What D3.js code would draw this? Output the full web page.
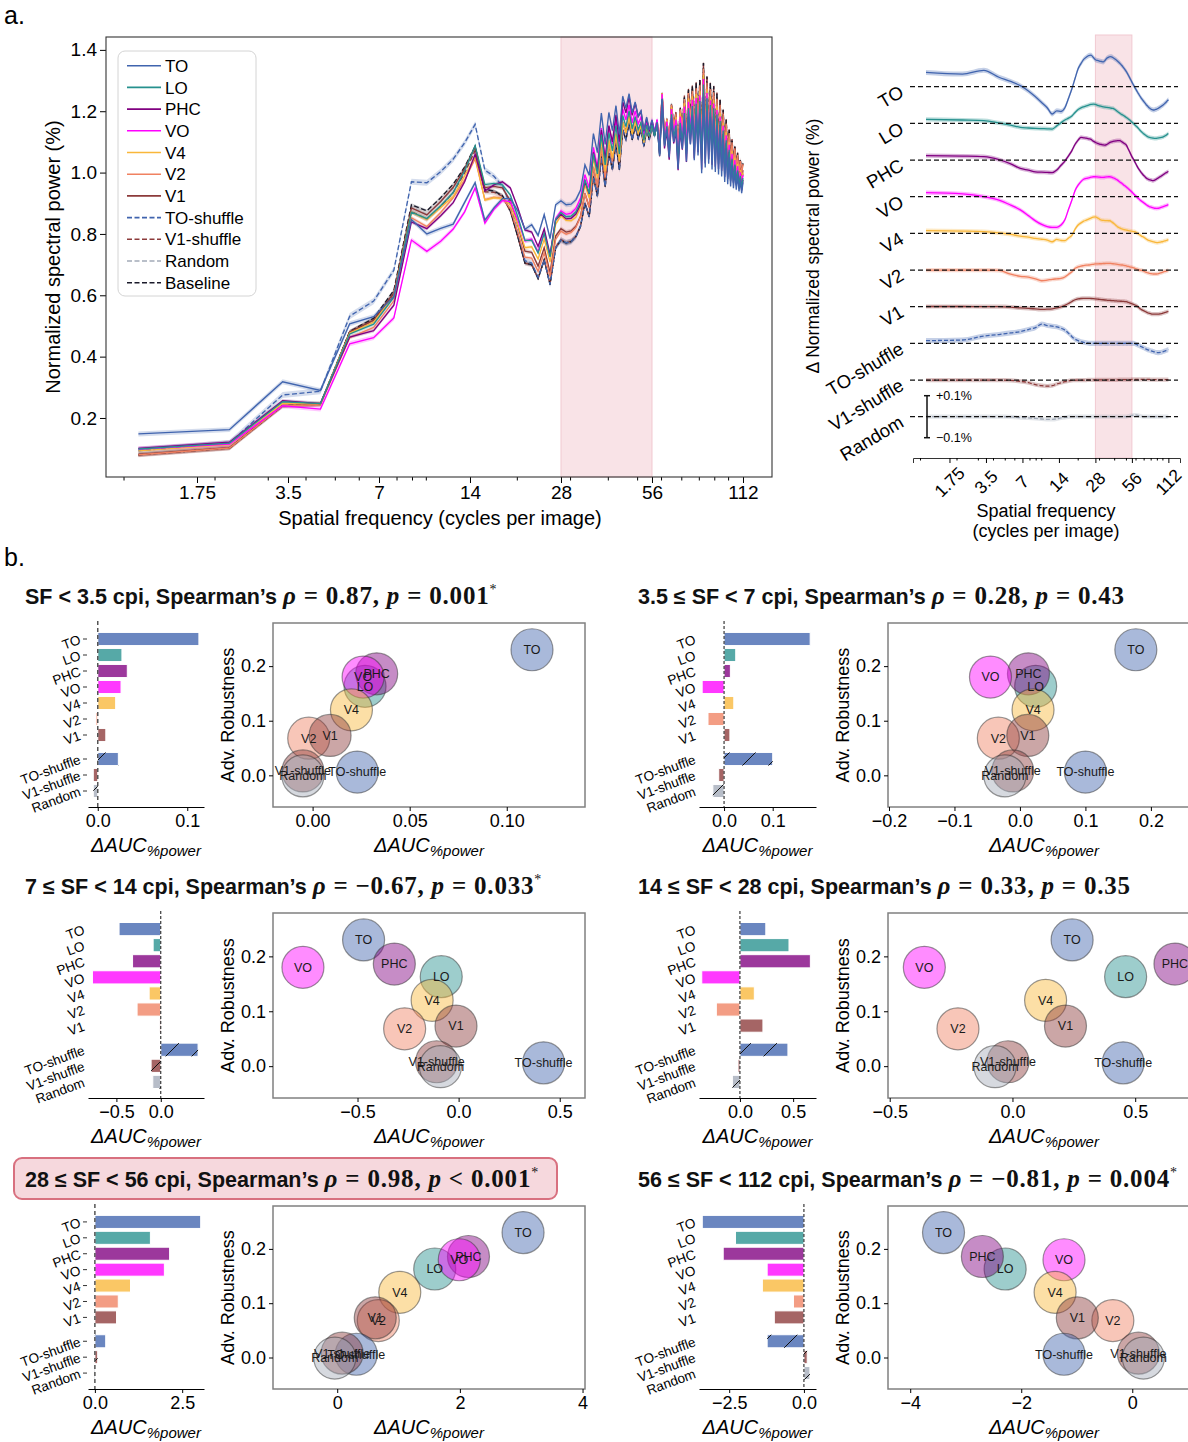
<!DOCTYPE html>
<html>
<head>
<meta charset="utf-8">
<script src="https://cdn.jsdelivr.net/npm/d3@7"></script>
<style>
  body { margin: 0; background: #fff; }
  svg text { font-family: "Liberation Sans", Arial, Helvetica, sans-serif; }
</style>
</head>
<body>
<svg width="1188" height="1442"></svg>
<script>
// ---------------- data ----------------
const regions = ['TO','LO','PHC','VO','V4','V2','V1','TO-shuffle','V1-shuffle','Random']
const regionColors = ['#4064ae','#26918e','#800080','#ff00ff','#f9b73a','#f08161','#8c3a3a','#4064ae','#8c3a3a','#a3abb8']
const baselineColor = '#1a1a2a'

const sfStep = 1.12   // spacing of the frequency bins (cycles per image)
const sfTicks = [1.75, 3.5, 7, 14, 28, 56, 112]
const sfMinor = [1, 2, 3, 4, 5, 6, 8, 9, 10, 20, 30, 40, 50, 60, 70, 80, 90, 100]
const mainYTicks = [0.2, 0.4, 0.6, 0.8, 1.0, 1.2, 1.4]

// baseline normalized spectral power (%) at each bin
const baseline = [
0.080,0.102,0.240,0.245,0.482,0.525,0.616,0.895,0.875,0.918,
0.962,1.018,1.085,0.945,0.940,0.925,0.875,0.790,0.705,0.700,
0.655,0.715,0.635,0.755,0.780,0.770,0.775,0.791,0.824,0.900,
0.856,0.987,0.922,1.052,0.954,1.063,1.009,1.096,1.009,1.139,
1.107,1.161,1.107,1.150,1.112,1.139,1.085,1.139,1.107,1.150,
1.118,1.161,1.063,1.253,1.107,1.172,1.085,1.221,1.150,1.194,
1.074,1.210,1.150,1.248,1.118,1.270,1.183,1.281,1.139,1.291,
1.161,1.302,1.107,1.357,1.128,1.313,1.139,1.291,1.118,1.281,
1.107,1.259,1.096,1.237,1.085,1.205,1.063,1.172,1.052,1.139,
1.041,1.107,1.030,1.085,1.020,1.063,1.009,1.041,0.998,1.030]

// difference to baseline (%), per region
const deltaTO = [
0.068,0.060,0.078,0.045,0.025,0.005,-0.020,-0.048,-0.075,-0.100,
-0.130,-0.115,-0.118,-0.100,-0.055,-0.010,0.040,0.085,0.110,0.130,
0.140,0.148,0.150,0.140,0.128,0.125,0.122,0.120,0.118,0.125,
0.135,0.140,0.143,0.142,0.138,0.133,0.128,0.122,0.116,0.110,
0.103,0.096,0.088,0.080,0.072,0.062,0.052,0.042,0.032,0.022,
0.013,0.004,-0.005,-0.013,-0.021,-0.029,-0.036,-0.043,-0.050,-0.056,
-0.062,-0.067,-0.072,-0.077,-0.082,-0.087,-0.091,-0.095,-0.099,-0.102,
-0.105,-0.107,-0.109,-0.110,-0.111,-0.111,-0.110,-0.109,-0.108,-0.107,
-0.105,-0.104,-0.102,-0.100,-0.098,-0.096,-0.094,-0.092,-0.090,-0.088,
-0.086,-0.083,-0.081,-0.078,-0.076,-0.073,-0.070,-0.067,-0.065,-0.062]
const deltaLO = [
0.019,0.016,0.013,0.002,-0.008,-0.019,-0.022,-0.024,-0.025,-0.026,
-0.027,-0.012,0.003,0.016,0.025,0.035,0.052,0.066,0.074,0.079,
0.083,0.087,0.090,0.092,0.090,0.086,0.083,0.081,0.079,0.077,
0.076,0.075,0.074,0.072,0.071,0.067,0.062,0.057,0.052,0.047,
0.043,0.040,0.036,0.032,0.028,0.024,0.020,0.016,0.011,0.006,
0.002,-0.003,-0.008,-0.012,-0.016,-0.021,-0.026,-0.031,-0.036,-0.040,
-0.044,-0.048,-0.051,-0.054,-0.057,-0.060,-0.062,-0.064,-0.066,-0.067,
-0.068,-0.069,-0.069,-0.070,-0.070,-0.071,-0.071,-0.071,-0.071,-0.071,
-0.070,-0.070,-0.069,-0.069,-0.068,-0.068,-0.067,-0.067,-0.066,-0.065,
-0.064,-0.062,-0.061,-0.059,-0.058,-0.056,-0.054,-0.052,-0.050,-0.048]
const deltaPHC = [
0.021,0.019,0.016,0.002,-0.018,-0.040,-0.048,-0.056,-0.058,-0.059,
-0.060,-0.048,-0.025,-0.005,0.020,0.045,0.075,0.095,0.108,0.106,
0.104,0.101,0.098,0.090,0.084,0.079,0.076,0.074,0.072,0.071,
0.074,0.079,0.084,0.087,0.089,0.090,0.091,0.092,0.092,0.092,
0.088,0.084,0.080,0.076,0.071,0.060,0.049,0.038,0.027,0.016,
0.008,-0.001,-0.010,-0.019,-0.028,-0.036,-0.043,-0.049,-0.055,-0.061,
-0.066,-0.071,-0.075,-0.079,-0.083,-0.087,-0.089,-0.091,-0.093,-0.094,
-0.095,-0.096,-0.097,-0.098,-0.098,-0.097,-0.096,-0.094,-0.092,-0.090,
-0.088,-0.086,-0.084,-0.082,-0.080,-0.079,-0.077,-0.075,-0.073,-0.071,
-0.069,-0.067,-0.065,-0.063,-0.062,-0.060,-0.059,-0.057,-0.056,-0.054]
const deltaVO = [
0.019,0.013,0.000,-0.016,-0.040,-0.063,-0.090,-0.115,-0.132,-0.142,
-0.146,-0.146,-0.135,-0.110,-0.060,-0.016,0.030,0.055,0.072,0.083,
0.087,0.090,0.093,0.095,0.095,0.094,0.093,0.092,0.092,0.093,
0.094,0.095,0.095,0.093,0.090,0.087,0.083,0.079,0.074,0.069,
0.065,0.060,0.055,0.051,0.046,0.042,0.037,0.032,0.027,0.022,
0.017,0.012,0.007,0.003,-0.002,-0.006,-0.010,-0.014,-0.018,-0.021,
-0.024,-0.027,-0.030,-0.033,-0.036,-0.039,-0.042,-0.044,-0.046,-0.048,
-0.049,-0.050,-0.051,-0.052,-0.053,-0.054,-0.055,-0.055,-0.056,-0.056,
-0.056,-0.055,-0.055,-0.054,-0.053,-0.052,-0.051,-0.050,-0.049,-0.048,
-0.047,-0.046,-0.045,-0.044,-0.043,-0.042,-0.041,-0.040,-0.039,-0.038]
const deltaV4 = [
0.013,0.011,0.008,0.002,-0.005,-0.013,-0.018,-0.024,-0.028,-0.032,
-0.040,-0.029,-0.034,-0.035,-0.022,-0.010,0.020,0.040,0.050,0.058,
0.063,0.068,0.073,0.077,0.079,0.074,0.068,0.063,0.062,0.061,
0.061,0.060,0.060,0.055,0.050,0.044,0.038,0.032,0.028,0.025,
0.022,0.020,0.018,0.017,0.016,0.014,0.013,0.012,0.011,0.010,
0.009,0.008,0.008,0.005,0.002,-0.001,-0.004,-0.007,-0.010,-0.013,
-0.015,-0.016,-0.019,-0.022,-0.025,-0.028,-0.030,-0.032,-0.034,-0.035,
-0.036,-0.037,-0.038,-0.039,-0.040,-0.041,-0.042,-0.043,-0.043,-0.044,
-0.044,-0.044,-0.043,-0.043,-0.042,-0.042,-0.041,-0.040,-0.040,-0.039,
-0.038,-0.037,-0.036,-0.036,-0.035,-0.034,-0.033,-0.032,-0.031,-0.030]
const deltaV2 = [
0.000,0.000,0.000,-0.002,-0.020,-0.030,-0.034,-0.042,-0.051,-0.048,
-0.044,-0.042,-0.040,-0.033,-0.020,-0.008,0.008,0.015,0.019,0.021,
0.023,0.024,0.026,0.027,0.029,0.029,0.030,0.030,0.031,0.031,
0.032,0.032,0.032,0.031,0.030,0.029,0.028,0.027,0.026,0.025,
0.024,0.024,0.022,0.021,0.020,0.018,0.017,0.015,0.014,0.013,
0.012,0.010,0.008,0.006,0.004,0.003,0.001,0.000,-0.001,-0.002,
-0.003,-0.004,-0.006,-0.008,-0.010,-0.011,-0.013,-0.014,-0.015,-0.016,
-0.017,-0.017,-0.018,-0.018,-0.019,-0.019,-0.019,-0.019,-0.019,-0.019,
-0.018,-0.018,-0.017,-0.016,-0.015,-0.014,-0.013,-0.012,-0.011,-0.010,
-0.009,-0.008,-0.007,-0.006,-0.006,-0.005,-0.004,-0.003,-0.003,-0.002]
const deltaV1 = [
0.001,0.001,0.000,0.000,-0.002,-0.006,-0.008,-0.010,-0.013,-0.012,
-0.010,-0.006,-0.001,0.006,0.015,0.025,0.033,0.037,0.039,0.040,
0.040,0.040,0.039,0.038,0.037,0.036,0.035,0.034,0.033,0.032,
0.031,0.030,0.030,0.029,0.029,0.028,0.028,0.027,0.027,0.026,
0.026,0.025,0.025,0.024,0.024,0.022,0.020,0.018,0.016,0.014,
0.012,0.010,0.008,0.006,0.004,0.000,-0.004,-0.008,-0.011,-0.014,
-0.016,-0.018,-0.020,-0.022,-0.024,-0.026,-0.028,-0.030,-0.031,-0.032,
-0.033,-0.034,-0.035,-0.035,-0.035,-0.035,-0.035,-0.035,-0.035,-0.035,
-0.035,-0.035,-0.035,-0.035,-0.034,-0.034,-0.033,-0.033,-0.032,-0.031,
-0.030,-0.029,-0.028,-0.027,-0.027,-0.026,-0.025,-0.024,-0.023,-0.022]
const deltaTOshuffle = [
0.013,0.016,0.035,0.042,0.050,0.056,0.066,0.075,0.092,0.085,
0.082,0.079,0.072,0.063,0.048,0.032,0.020,0.013,0.008,0.005,
0.003,0.001,0.000,0.000,0.000,0.001,0.000,0.000,0.001,0.000,
0.000,0.000,0.001,0.000,0.000,0.000,0.001,0.000,0.000,0.000,
0.001,0.000,0.000,0.001,0.000,0.000,0.001,0.000,0.000,0.000,
0.000,-0.001,-0.002,-0.004,-0.006,-0.008,-0.010,-0.012,-0.014,-0.016,
-0.018,-0.020,-0.022,-0.024,-0.026,-0.028,-0.030,-0.031,-0.032,-0.033,
-0.035,-0.036,-0.037,-0.038,-0.039,-0.040,-0.041,-0.042,-0.043,-0.043,
-0.044,-0.044,-0.044,-0.044,-0.043,-0.043,-0.042,-0.042,-0.041,-0.040,
-0.039,-0.038,-0.037,-0.036,-0.035,-0.034,-0.033,-0.032,-0.031,-0.030]
const deltaV1shuffle = [
0.000,0.000,0.000,0.000,-0.002,-0.006,-0.012,-0.022,-0.027,-0.029,
-0.027,-0.019,-0.013,-0.008,-0.004,-0.002,-0.001,0.000,0.000,0.000,
0.000,0.001,0.001,0.001,0.001,0.001,0.001,0.001,0.001,0.001,
0.001,0.001,0.001,0.001,0.001,0.001,0.001,0.001,0.002,0.002,
0.002,0.002,0.002,0.002,0.002,0.002,0.002,0.002,0.002,0.003,
0.003,0.003,0.003,0.003,0.003,0.003,0.003,0.003,0.003,0.003,
0.003,0.003,0.003,0.003,0.003,0.003,0.003,0.003,0.003,0.003,
0.002,0.002,0.002,0.002,0.002,0.002,0.002,0.002,0.002,0.002,
0.002,0.002,0.002,0.002,0.002,0.002,0.002,0.002,0.002,0.002,
0.002,0.002,0.002,0.002,0.002,0.002,0.002,0.002,0.002,0.002]
const deltaRandom = [
0.000,0.000,0.000,0.000,-0.001,-0.004,-0.006,-0.008,-0.011,-0.013,
-0.013,-0.010,-0.006,-0.003,-0.001,0.000,0.000,0.000,0.000,0.000,
0.000,0.000,0.000,0.000,0.000,0.000,0.000,0.000,0.000,0.000,
0.000,0.000,0.000,0.000,0.000,0.000,0.000,0.000,0.000,0.000,
0.000,0.000,0.000,0.000,0.000,0.002,0.003,0.004,0.005,0.006,
0.007,0.008,0.008,0.008,0.007,0.006,0.005,0.004,0.003,0.002,
0.001,0.000,0.000,0.000,0.000,0.000,0.000,0.000,0.000,0.000,
0.000,0.000,0.000,0.000,0.000,0.000,0.000,0.000,0.000,0.000,
0.000,0.000,0.000,0.000,0.000,0.000,0.000,0.000,0.000,0.000,
0.000,0.000,0.000,0.000,0.000,0.000,0.000,0.000,0.000,0.000]

// half width of the shaded confidence bands (%)
const mainCI = [0.008,0.006,0.006,0.008,0.006,0.006,0.007,0.010,0.008,0.006]
const baselineCI = 0.005
const deltaCI = [0.012,0.010,0.010,0.010,0.010,0.010,0.010,0.012,0.010,0.010]

// panel b: adversarial robustness per region and delta AUC per band
const robustness = [0.230,0.163,0.186,0.180,0.120,0.068,0.073,0.006,0.008,-0.001]
const bandLabels = ['SF < 3.5 cpi','3.5 ≤ SF < 7 cpi','7 ≤ SF < 14 cpi','14 ≤ SF < 28 cpi','28 ≤ SF < 56 cpi','56 ≤ SF < 112 cpi']
const spearmanRho = [0.87, 0.28, -0.67, 0.33, 0.98, -0.81]
const pRelation = ['=','=','=','=','<','=']
const pText = ['0.001','0.43','0.033','0.35','0.001','0.004']
const significant = [true, false, true, false, true, true]
const aucBand1 = [0.113, 0.027, 0.033, 0.026, 0.020, -0.002, 0.009, 0.023, -0.005, -0.005]
const aucBand2 = [0.177, 0.024, 0.013, -0.045, 0.020, -0.033, 0.012, 0.100, -0.011, -0.023]
const aucBand3 = [-0.470, -0.086, -0.318, -0.770, -0.131, -0.267, -0.013, 0.420, -0.109, -0.090]
const aucBand4 = [0.243, 0.461, 0.662, -0.359, 0.135, -0.222, 0.216, 0.451, -0.018, -0.071]
const aucBand5 = [3.03, 1.59, 2.14, 1.99, 1.02, 0.67, 0.62, 0.31, 0.08, -0.04]
const aucBand6 = [-3.40, -2.29, -2.70, -1.23, -1.39, -0.35, -0.99, -1.23, 0.11, 0.20]

// ---------------- layout ----------------
const SERIF = '"Liberation Serif", "DejaVu Serif", serif'
const svg = d3.select('svg')
const defs = svg.append('defs')

defs.append('pattern').attr('id','hatch').attr('patternUnits','userSpaceOnUse')
  .attr('width',26).attr('height',26)
  .append('path').attr('d','M0,26 L26,0 M-4,4 L4,-4 M22,30 L30,22')
  .attr('stroke','#111').attr('stroke-width',1)

svg.append('text').attr('x',4).attr('y',24).attr('font-size',25).text('a.')
svg.append('text').attr('x',4).attr('y',566).attr('font-size',25).text('b.')

const sf = baseline.map((_, i) => (i + 1) * sfStep)
const deltas = [deltaTO, deltaLO, deltaPHC, deltaVO, deltaV4, deltaV2, deltaV1, deltaTOshuffle, deltaV1shuffle, deltaRandom]

// ---------------- a. left: spectra ----------------
const M = {left:106, right:772, top:37, bottom:477}
const x = d3.scaleLog().domain([0.875, 139.7]).range([M.left, M.right])
const y = d3.scaleLinear().domain([0.0076, 1.442]).range([M.bottom, M.top])

const pa = svg.append('g')
pa.append('rect')
  .attr('x', x(28)).attr('y', M.top).attr('width', x(56) - x(28)).attr('height', M.bottom - M.top)
  .attr('fill','#f9e3e7').attr('stroke','#f1c9d1')

const series = regions.map((name, i) => ({
  name, color: regionColors[i], dashed: i >= 7, ci: mainCI[i],
  values: baseline.map((b, j) => b + deltas[i][j])
}))
series.push({name:'Baseline', color: baselineColor, dashed: true, ci: baselineCI, values: baseline})

const drawOrder = [9, 8, 10, 7, 6, 5, 4, 3, 2, 1, 0]
const band = ci => d3.area().x((d, j) => x(sf[j])).y0(d => y(d - ci)).y1(d => y(d + ci))
const line = d3.line().x((d, j) => x(sf[j])).y(d => y(d))

pa.append('g').selectAll('path').data(drawOrder.map(i => series[i])).join('path')
  .attr('d', s => band(s.ci)(s.values))
  .attr('fill', s => s.color).attr('fill-opacity', 0.22)
pa.append('g').selectAll('path').data(drawOrder.map(i => series[i])).join('path')
  .attr('d', s => line(s.values))
  .attr('fill','none').attr('stroke', s => s.color).attr('stroke-width', 1.35)
  .attr('stroke-dasharray', s => s.dashed ? '5,2.5' : null)

const xAxA = pa.append('g').attr('transform', `translate(0,${M.bottom})`)
  .call(d3.axisBottom(x).tickValues(sfTicks).tickFormat(d => d).tickSize(6))
xAxA.attr('font-size', 19).attr('font-family', null)
xAxA.select('.domain').remove()
pa.append('g').attr('transform', `translate(0,${M.bottom})`)
  .call(d3.axisBottom(x).tickValues(sfMinor.filter(d => d > 0.875)).tickFormat('').tickSize(3.5))
  .select('.domain').remove()
const yAxA = pa.append('g').attr('transform', `translate(${M.left},0)`)
  .call(d3.axisLeft(y).tickValues(mainYTicks).tickFormat(d3.format('.1f')).tickSize(6))
yAxA.attr('font-size', 19).attr('font-family', null)
yAxA.select('.domain').remove()
pa.append('rect').attr('x', M.left).attr('y', M.top).attr('width', M.right - M.left).attr('height', M.bottom - M.top)
  .attr('fill','none').attr('stroke','#333').attr('stroke-width',1.1)

pa.append('text').attr('x', 440).attr('y', 525).attr('text-anchor','middle').attr('font-size',20)
  .text('Spatial frequency (cycles per image)')
pa.append('text').attr('transform','translate(60,257) rotate(-90)').attr('text-anchor','middle').attr('font-size',20)
  .text('Normalized spectral power (%)')

// legend
const lg = pa.append('g')
lg.append('rect').attr('x',118).attr('y',51).attr('width',138).attr('height',245).attr('rx',7)
  .attr('fill','#fff').attr('fill-opacity',0.85).attr('stroke','#d4d4d4')
const lgItems = lg.selectAll('g.item').data(series).join('g')
  .attr('transform', (d, i) => `translate(0,${65.7 + i * 21.7})`)
lgItems.append('line').attr('x1',127).attr('x2',161)
  .attr('stroke', d => d.color).attr('stroke-width',1.6)
  .attr('stroke-dasharray', d => d.dashed ? '5,2.5' : null)
lgItems.append('text').attr('x',165).attr('dy','0.36em').attr('font-size',17).text(d => d.name)

// ---------------- a. right: deltas ----------------
const rxS = d3.scaleLog().domain([0.875, 139.7]).range([913, 1180])
const rowY = d3.scalePoint().domain(regions).range([86.7, 416.7])
const dY = d3.scaleLinear().domain([-0.1, 0.1]).range([21, -21])
const pr = svg.append('g')
pr.append('rect').attr('x', rxS(28)).attr('y', 35).attr('width', rxS(56) - rxS(28)).attr('height', 458 - 35)
  .attr('fill','#f9e3e7').attr('stroke','#f1c9d1')

regions.forEach((name, i) => {
  const y0 = rowY(name)
  const a = d3.area().x((d, j) => rxS(sf[j])).y0(d => y0 + dY(d - deltaCI[i])).y1(d => y0 + dY(d + deltaCI[i]))
    .curve(d3.curveMonotoneX)
  const l = d3.line().x((d, j) => rxS(sf[j])).y(d => y0 + dY(d)).curve(d3.curveMonotoneX)
  pr.append('path').attr('d', a(deltas[i])).attr('fill', regionColors[i]).attr('fill-opacity', 0.3)
  pr.append('path').attr('d', l(deltas[i])).attr('fill','none').attr('stroke', regionColors[i])
    .attr('stroke-width', 1.3).attr('stroke-dasharray', i >= 7 ? '4,2' : null)
})
pr.append('g').selectAll('line').data(regions).join('line')
  .attr('x1', 910).attr('x2', 1178).attr('y1', d => rowY(d)).attr('y2', d => rowY(d))
  .attr('stroke','#111').attr('stroke-width',1.3).attr('stroke-dasharray','5,3')
pr.append('g').selectAll('text').data(regions).join('text')
  .attr('transform', d => `translate(905,${rowY(d) + 9}) rotate(-31)`)
  .attr('text-anchor','end').attr('font-size',18.5).text(d => d)

const xAxR = pr.append('g').attr('transform','translate(0,458)')
  .call(d3.axisBottom(rxS).tickValues(sfTicks).tickFormat('').tickSize(5))
xAxR.select('.domain').attr('stroke','#333')
pr.append('g').attr('transform','translate(0,458)')
  .call(d3.axisBottom(rxS).tickValues(sfMinor.filter(d => d > 0.875)).tickFormat('').tickSize(2.5))
  .select('.domain').remove()
pr.append('g').selectAll('text').data(sfTicks).join('text')
  .attr('transform', d => `translate(${rxS(d)},482) rotate(-45)`)
  .attr('text-anchor','middle').attr('dy','0.35em').attr('font-size',17.5).text(d => d)
pr.append('text').attr('x',1046).attr('y',517).attr('text-anchor','middle').attr('font-size',18).text('Spatial frequency')
pr.append('text').attr('x',1046).attr('y',537).attr('text-anchor','middle').attr('font-size',18).text('(cycles per image)')
pr.append('text').attr('transform','translate(819,246) rotate(-90)').attr('text-anchor','middle').attr('font-size',17.5)
  .text('Δ Normalized spectral power (%)')

// scale bar (±0.1 %) on the Random row
const sb = pr.append('g').attr('stroke','#111').attr('stroke-width',1.5)
const sbY = rowY('Random')
sb.append('line').attr('x1',927).attr('x2',927).attr('y1', sbY + dY(0.1)).attr('y2', sbY + dY(-0.1))
sb.append('line').attr('x1',924).attr('x2',930).attr('y1', sbY + dY(0.1)).attr('y2', sbY + dY(0.1))
sb.append('line').attr('x1',924).attr('x2',930).attr('y1', sbY + dY(-0.1)).attr('y2', sbY + dY(-0.1))
pr.append('text').attr('x',936).attr('y', sbY + dY(0.1)).attr('dy','0.35em').attr('font-size',12.5).text('+0.1%')
pr.append('text').attr('x',936).attr('y', sbY + dY(-0.1)).attr('dy','0.35em').attr('font-size',12.5).text('−0.1%')

// ---------------- b. band panels ----------------
const aucBands = [aucBand1, aucBand2, aucBand3, aucBand4, aucBand5, aucBand6]
const barPos = [0, 1, 2, 3, 4, 5, 6, 7.5, 8.5, 9.5]
const rowTop = [623, 913, 1206], rowBottom = [807, 1098, 1389], titleY = [604, 894, 1187]
const titleX = [25, 638]
const barRange = [[88, 204], [699, 816]]
const scRange = [[273, 585], [888, 1200]]
const panelAxes = [
  {barDom:[-0.0109, 0.1187], barTicks:[0, 0.1], scDom:[-0.0204, 0.1403], scTicks:[0, 0.05, 0.1], scFmt:'.2f', ticks:true},
  {barDom:[-0.0515, 0.189], barTicks:[0, 0.1], scDom:[-0.2015, 0.275], scTicks:[-0.2, -0.1, 0, 0.1, 0.2], scFmt:'.1f'},
  {barDom:[-0.82, 0.487], barTicks:[-0.5, 0], scDom:[-0.918, 0.625], scTicks:[-0.5, 0, 0.5], scFmt:'.1f'},
  {barDom:[-0.385, 0.715], barTicks:[0, 0.5], scDom:[-0.507, 0.764], scTicks:[-0.5, 0, 0.5], scFmt:'.1f'},
  {barDom:[-0.197, 3.125], barTicks:[0, 2.5], scDom:[-1.047, 4.04], scTicks:[0, 2, 4], scFmt:'d', ticks:true},
  {barDom:[-3.51, 0.404], barTicks:[-2.5, 0], scDom:[-4.4, 1.22], scTicks:[-4, -2, 0], scFmt:'d'}
]

// highlighted title box of the 28-56 band
svg.append('rect').attr('x',14).attr('y',1158).attr('width',543).attr('height',41).attr('rx',8)
  .attr('fill','#f6d8dd').attr('stroke','#d8707f').attr('stroke-width',2)

function axisLabel(g, cx, cy) {
  const t = g.append('text').attr('x', cx).attr('y', cy).attr('text-anchor','middle').attr('font-style','italic')
  t.append('tspan').attr('font-size',20).text('ΔAUC')
  t.append('tspan').attr('font-size',15).attr('dy',4).text('%power')
}

function drawPanel(i) {
  const col = i % 2, row = Math.floor(i / 2)
  const top = rowTop[row], bottom = rowBottom[row]
  const cfg = panelAxes[i], auc = aucBands[i]
  const g = svg.append('g')

  // title
  const tt = g.append('text').attr('x', titleX[col]).attr('y', titleY[row]).attr('font-weight','bold').attr('fill','#111')
  tt.append('tspan').attr('font-size',21.5).text(`${bandLabels[i]}, Spearman’s `)
  const m = (txt, it) => tt.append('tspan').attr('font-family', SERIF).attr('font-size',25)
    .attr('letter-spacing', 0.8).attr('font-style', it ? 'italic' : null).text(txt)
  m('ρ', true); m(` = ${d3.format('.2f')(spearmanRho[i])}, `); m('p', true); m(` ${pRelation[i]} ${pText[i]}`)
  if (significant[i]) tt.append('tspan').attr('font-family', SERIF).attr('font-weight','normal')
    .attr('font-size',14).attr('dy',-10).text('*')

  // bars
  const bx = d3.scaleLinear().domain(cfg.barDom).range(barRange[col])
  const by = d3.scaleLinear().domain([-1, 10.5]).range([top, bottom])
  const bh = (by(1) - by(0)) * 0.82
  const bars = g.append('g')
  bars.selectAll('rect.bar').data(auc).join('rect').attr('class','bar')
    .attr('x', d => bx(Math.min(0, d))).attr('width', d => Math.abs(bx(d) - bx(0)))
    .attr('y', (d, j) => by(barPos[j]) - bh / 2).attr('height', bh)
    .attr('fill', (d, j) => regionColors[j]).attr('fill-opacity', 0.78)
    .attr('stroke','#fff').attr('stroke-width',1)
  bars.selectAll('rect.hatch').data(auc.slice(7)).join('rect').attr('class','hatch')
    .attr('x', d => bx(Math.min(0, d))).attr('width', d => Math.abs(bx(d) - bx(0)))
    .attr('y', (d, j) => by(barPos[j + 7]) - bh / 2).attr('height', bh)
    .attr('fill','url(#hatch)')
  g.append('line').attr('x1', bx(0)).attr('x2', bx(0)).attr('y1', top - 2).attr('y2', bottom)
    .attr('stroke', cfg.ticks ? '#555' : '#111').attr('stroke-width', cfg.ticks ? 1.5 : 1)
    .attr('stroke-dasharray', cfg.ticks ? '4,3' : '3,2')
  const bxAx = g.append('g').attr('transform', `translate(0,${bottom})`)
    .call(d3.axisBottom(bx).tickValues(cfg.barTicks).tickFormat(d3.format('.1f')).tickSize(4).tickSizeOuter(0))
  bxAx.attr('font-size',18).attr('font-family', null)
  const left = barRange[col][0]
  if (cfg.ticks) {
    g.append('g').selectAll('line').data(barPos).join('line')
      .attr('x1', left - 5).attr('x2', left - 1).attr('y1', d => by(d)).attr('y2', d => by(d))
      .attr('stroke','#333')
  }
  g.append('g').selectAll('text').data(regions).join('text')
    .attr('transform', (d, j) => `translate(${left - (cfg.ticks ? 8 : 4)},${by(barPos[j])}) rotate(-20)`)
    .attr('text-anchor','end').attr('dy','0.35em').attr('font-size',13.5).text(d => d)
  axisLabel(g, (barRange[col][0] + barRange[col][1]) / 2, bottom + 45)

  // scatter
  const sx = d3.scaleLinear().domain(cfg.scDom).range(scRange[col])
  const sy = d3.scaleLinear().domain([-0.058, 0.279]).range([bottom, top])
  const sc = g.append('g')
  sc.selectAll('circle').data(auc).join('circle')
    .attr('cx', d => sx(d)).attr('cy', (d, j) => sy(robustness[j])).attr('r', 21)
    .attr('fill', (d, j) => regionColors[j]).attr('fill-opacity', 0.45)
    .attr('stroke','#333').attr('stroke-opacity',0.5).attr('stroke-width',1.2)
  sc.selectAll('text').data(auc).join('text')
    .attr('x', d => sx(d)).attr('y', (d, j) => sy(robustness[j])).attr('dy','0.35em')
    .attr('text-anchor','middle').attr('font-size',12.5).attr('fill','#1a1a1a')
    .text((d, j) => regions[j])
  g.append('rect').attr('x', scRange[col][0]).attr('y', top)
    .attr('width', scRange[col][1] - scRange[col][0]).attr('height', bottom - top)
    .attr('fill','none').attr('stroke','#808080').attr('stroke-width',1.5)
  const sxAx = g.append('g').attr('transform', `translate(0,${bottom})`)
    .call(d3.axisBottom(sx).tickValues(cfg.scTicks).tickFormat(d3.format(cfg.scFmt)).tickSize(4))
  sxAx.attr('font-size',18).attr('font-family', null)
  sxAx.select('.domain').remove()
  const syAx = g.append('g').attr('transform', `translate(${scRange[col][0]},0)`)
    .call(d3.axisLeft(sy).tickValues([0, 0.1, 0.2]).tickFormat(d3.format('.1f')).tickSize(4))
  syAx.attr('font-size',18).attr('font-family', null)
  syAx.select('.domain').remove()
  g.append('text').attr('transform', `translate(${scRange[col][0] - 39},${(top + bottom) / 2}) rotate(-90)`)
    .attr('text-anchor','middle').attr('font-size',18).text('Adv. Robustness')
  axisLabel(g, (scRange[col][0] + Math.min(scRange[col][1], 1200)) / 2, bottom + 45)
}

d3.range(6).forEach(drawPanel)
</script>
</body>
</html>
